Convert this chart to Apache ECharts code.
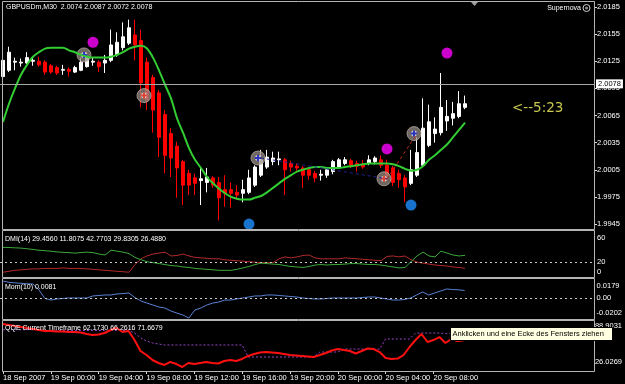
<!DOCTYPE html>
<html><head><meta charset="utf-8">
<script src="https://cdn.jsdelivr.net/npm/echarts@6/dist/echarts.min.js"></script>
<style>html,body{margin:0;padding:0;background:#000;}#c{width:625px;height:384px;}</style>
</head><body><div id="c"></div>
<script>
// ---------- DATA ----------
const slotCount = 99; // bar slots visible in window (78 bars drawn + empty space to the right)
const dateTickBars = [0, 8, 16, 24, 32, 40, 48, 56, 64, 72];
const dateLabels = ['18 Sep 2007','19 Sep 00:00','19 Sep 04:00','19 Sep 08:00','19 Sep 12:00','19 Sep 16:00','19 Sep 20:00','20 Sep 00:00','20 Sep 04:00','20 Sep 08:00'];
const priceTicks = [2.0185, 2.0155, 2.0125, 2.0095, 2.0065, 2.0035, 2.0005, 1.9975, 1.9945];
const dmiTicks = [0, 20, 60];
const momTicks = [-0.0202, 0, 0.0179];
const qqeTicks = [26.0269, 88.9031];

// [open, close, low, high]
const candles = [
[2.0108,2.0126,2.0107,2.0132],[2.0115,2.0135,2.0113,2.0141],[2.0124,2.0125,2.0115,2.0129],[2.0123,2.0124,2.0119,2.0128],
[2.0123,2.0129,2.0122,2.0135],[2.0125,2.0126,2.0120,2.0130],[2.0125,2.0121,2.0119,2.0130],[2.0124,2.0113,2.0110,2.0126],
[2.0120,2.0113,2.0111,2.0122],[2.0118,2.0112,2.0110,2.0120],[2.0115,2.0116,2.0110,2.0121],[2.0116,2.0114,2.0108,2.0118],
[2.0113,2.0118,2.0112,2.0120],[2.0115,2.0124,2.0114,2.0129],[2.0119,2.0130,2.0118,2.0135],[2.0124,2.0125,2.0120,2.0129],
[2.0124,2.0119,2.0113,2.0126],[2.0123,2.0126,2.0112,2.0132],[2.0126,2.0143,2.0124,2.0160],[2.0132,2.0146,2.0130,2.0157],
[2.0140,2.0152,2.0137,2.0168],[2.0145,2.0162,2.0143,2.0171],[2.0154,2.0143,2.0126,2.0171],[2.0148,2.0101,2.0074,2.0160],
[2.0124,2.0082,2.0071,2.0129],[2.0107,2.0071,2.0046,2.0110],[2.0090,2.0041,2.0019,2.0093],[2.0066,2.0021,2.0001,2.0071],
[2.0045,2.0018,1.9997,2.0051],[2.0031,2.0007,1.9974,2.0036],[2.0014,1.9988,1.9966,2.0016],[2.0001,1.9988,1.9977,2.0005],
[1.9996,1.9990,1.9977,2.0001],[1.9993,1.9995,1.9966,2.0008],[1.9991,1.9997,1.9980,2.0007],[1.9996,1.9988,1.9985,1.9998],
[1.9991,1.9974,1.9949,1.9997],[1.9983,1.9979,1.9964,1.9999],[1.9983,1.9979,1.9963,1.9991],[1.9980,1.9977,1.9972,1.9988],
[1.9979,1.9983,1.9969,1.9994],[1.9980,1.9996,1.9978,2.0005],[1.9988,2.0008,1.9986,2.0010],[1.9999,2.0016,1.9997,2.0027],
[2.0008,2.0019,2.0006,2.0027],[2.0014,2.0018,2.0010,2.0025],[2.0016,2.0017,2.0010,2.0025],[2.0016,2.0005,1.9977,2.0018],
[2.0012,2.0008,2.0003,2.0015],[2.0009,2.0007,2.0004,2.0012],[2.0007,1.9999,1.9985,2.0009],[2.0005,1.9999,1.9994,2.0007],
[2.0001,1.9996,1.9991,2.0004],[1.9999,2.0000,1.9993,2.0005],[1.9999,2.0005,1.9996,2.0008],[2.0003,2.0014,2.0000,2.0016],
[2.0008,2.0016,2.0006,2.0018],[2.0012,2.0016,2.0010,2.0019],[2.0015,2.0010,2.0007,2.0017],[2.0012,2.0009,2.0003,2.0015],
[2.0011,2.0008,2.0006,2.0016],[2.0012,2.0016,2.0010,2.0021],[2.0014,2.0018,2.0011,2.0020],[2.0016,2.0010,2.0007,2.0021],
[2.0010,1.9999,1.9994,2.0016],[2.0007,1.9991,1.9987,2.0009],[2.0001,1.9994,1.9985,2.0005],[1.9996,1.9986,1.9969,1.9999],
[1.9990,2.0005,1.9988,2.0027],[1.9999,2.0024,1.9997,2.0041],[2.0010,2.0051,2.0008,2.0084],[2.0032,2.0058,2.0030,2.0077],
[2.0045,2.0050,2.0035,2.0063],[2.0046,2.0074,2.0043,2.0112],[2.0059,2.0064,2.0048,2.0082],[2.0062,2.0067,2.0054,2.0080],
[2.0064,2.0078,2.0062,2.0092],[2.0074,2.0078,2.0072,2.0087]
];

const supernovaLine = [
2.0058,2.0078,2.0095,2.0110,2.0121,2.0130,2.0135,2.0139,2.0140,2.0140,
2.0140,2.0137,2.0135,2.0132,2.0130,2.0129,2.0129,2.0129,2.0130,2.0132,
2.0135,2.0139,2.0141,2.0142,2.0139,2.0129,2.0115,2.0099,2.0084,2.0062,
2.0046,2.0029,2.0016,2.0007,1.9997,1.9990,1.9984,1.9979,1.9975,1.9973,
1.9972,1.9972,1.9974,1.9976,1.9980,1.9985,1.9990,1.9995,1.9999,2.0003,
2.0005,2.0007,2.0008,2.0008,2.0007,2.0007,2.0007,2.0008,2.0009,2.0010,
2.0011,2.0012,2.0012,2.0012,2.0012,2.0011,2.0009,2.0006,2.0004,2.0005,
2.0009,2.0016,2.0021,2.0027,2.0033,2.0041,2.0049,2.0057
];

const magentaDots = [[15, 2.0146], [64, 2.0028], [74, 2.0134]];
const blueDots = [[41, 1.9945], [68, 1.9966]];
const signalBars = [14, 24, 43, 64, 69];
const signalPrices = [2.0132, 2.0087, 2.0018, 1.9995, 2.0045];
const signalSide = ['buy', 'sell', 'buy', 'sell', 'buy'];

const dmiPlus = [
40.4,40.2,39.8,39.4,38.5,37.6,36.5,35.9,35.2,34.2,
33.6,33.3,32.6,33.3,33.9,33.3,31.3,30.0,36.5,35.2,
33.9,31.9,26.7,23.5,20.9,19.6,18.3,17.0,15.6,15.0,
13.7,13.0,11.7,11.1,10.4,9.8,9.1,9.1,9.1,10.4,
12.4,14.3,17.0,18.9,18.3,17.6,17.0,15.6,14.3,13.7,
13.0,14.3,16.3,17.0,16.3,17.0,17.0,17.6,18.3,18.3,
17.6,17.0,17.0,16.3,15.0,13.7,12.4,13.0,20.9,28.7,
33.9,28.7,27.4,35.2,32.6,30.0,28.7,29.5
];
const dmiMinus = [
6.5,7.8,9.1,9.8,10.4,11.1,11.1,11.7,11.7,11.7,
12.4,11.7,11.7,11.7,11.1,10.4,9.8,9.1,8.5,7.8,
7.2,6.5,17.0,24.8,28.7,31.3,32.6,33.9,28.7,29.3,
31.3,28.7,26.7,26.1,25.4,24.8,24.8,23.5,22.8,22.2,
21.5,20.9,20.2,19.6,19.6,19.6,24.8,27.4,26.1,27.4,
29.3,30.0,26.1,24.8,24.8,24.8,24.8,26.1,25.4,24.8,
24.1,23.5,22.8,22.2,28.0,28.7,27.4,28.7,23.5,20.2,
18.9,17.6,16.3,15.6,15.0,13.7,13.0,11.8
];
const momentum = [
0.0179,0.0165,0.0160,0.0155,0.0150,0.0148,0.0086,-0.0001,-0.0017,-0.0006,
-0.0001,0.0004,0.0004,0.0004,0.0004,0.0025,0.0030,0.0035,0.0035,0.0045,
0.0050,0.0055,0.0009,-0.0027,-0.0048,-0.0068,-0.0089,-0.0099,-0.0130,-0.0151,
-0.0171,-0.0202,-0.0120,-0.0099,-0.0068,-0.0048,-0.0037,-0.0017,-0.0017,-0.0006,
0.0004,0.0014,0.0025,0.0025,0.0035,0.0035,0.0030,0.0025,0.0019,0.0014,
0.0004,-0.0001,-0.0006,-0.0006,-0.0001,0.0004,0.0004,0.0004,0.0004,0.0004,
0.0009,0.0014,0.0014,0.0004,-0.0006,-0.0017,-0.0017,-0.0011,0.0004,0.0035,
0.0066,0.0035,0.0055,0.0076,0.0097,0.0091,0.0088,0.0081
];
const qqeRsi = [
84.8,83.4,82.1,80.7,79.3,78.0,76.6,75.2,75.2,74.6,
74.6,73.9,73.9,73.2,71.1,69.8,70.5,72.5,76.6,79.3,
73.9,75.2,62.9,47.9,42.4,35.6,31.5,28.8,32.9,30.1,
26.03,31.5,30.1,31.5,32.9,31.5,30.8,34.2,35.6,34.2,
37.0,41.1,43.8,45.9,46.5,45.9,45.2,43.8,42.4,41.8,
41.1,40.4,39.7,42.4,45.2,48.6,50.6,49.3,47.9,44.5,
47.9,51.3,50.6,46.5,38.3,37.0,37.6,42.4,53.4,62.9,
71.1,60.2,62.9,67.0,58.8,64.3,61.6,62.17
];
const qqeTrail = [
77.0,77.0,77.0,77.0,77.0,77.0,77.0,76.0,76.0,76.0,
76.0,76.0,76.0,76.0,76.0,76.0,76.0,76.0,76.0,76.0,
76.0,76.0,72.5,66.0,61.6,58.8,57.5,56.1,56.1,56.1,
56.1,56.1,56.1,56.1,56.1,56.1,56.1,56.1,56.1,56.1,
56.1,39.7,39.7,39.7,39.7,39.7,39.7,39.7,39.7,39.7,
39.7,39.7,39.7,46.5,46.5,46.5,46.5,50.6,50.6,50.6,
50.6,50.6,50.6,50.6,64.3,64.3,64.3,64.3,64.3,72.5,
72.5,72.5,72.5,72.5,71.67,71.67,71.67,71.67
];

// ---------- CHART ----------
const FONT = '"Liberation Sans", Arial, sans-serif';
const categories = Array.from({length: slotCount}, (_, i) => String(i));
const labelAt = {};
dateTickBars.forEach((b, k) => { labelAt[b] = dateLabels[k]; });
const lastClose = candles[candles.length - 1][1];
const lastBar = candles[candles.length - 1];

const gridBase = {left: 0, width: 594};
const hiddenX = (g) => ({gridIndex: g, type: 'category', data: categories, boundaryGap: true, show: false});
const dotted = {color: '#c8c8c8', type: [2, 3], width: 1};
const lbl = {color: '#ffffff', fontSize: 7.5, fontFamily: FONT};

function edgeFmt(minV, maxV, fmt) {
  return function (v) {
    const s = fmt(v);
    if (v === maxV) return '{t|' + s + '}';
    if (v === minV) return '{b|' + s + '}';
    return s;
  };
}
const edgeRich = {
  t: {padding: [10, 0, 0, 0], color: '#fff', fontSize: 7.5, fontFamily: FONT},
  b: {padding: [0, 0, 10, 0], color: '#fff', fontSize: 7.5, fontFamily: FONT}
};

const chart = echarts.init(document.getElementById('c'), null, {renderer: 'canvas'});
chart.setOption({
  backgroundColor: '#000000',
  animation: false,
  grid: [
    Object.assign({top: 2, height: 227}, gridBase),
    Object.assign({top: 233, height: 44}, gridBase),
    Object.assign({top: 281, height: 37}, gridBase),
    Object.assign({top: 321, height: 46}, gridBase)
  ],
  xAxis: [
    hiddenX(0), hiddenX(1), hiddenX(2),
    {
      gridIndex: 3, type: 'category', data: categories, boundaryGap: true, offset: 4,
      axisLine: {show: false},
      axisTick: {show: true, alignWithLabel: true, length: 3, interval: (i) => labelAt[i] !== undefined, lineStyle: {color: '#dddddd'}},
      axisLabel: Object.assign({interval: (i) => labelAt[i] !== undefined, formatter: (v, i) => labelAt[i] || '', align: 'left', margin: 3}, lbl)
    }
  ],
  yAxis: [
    {
      gridIndex: 0, type: 'value', position: 'right', min: 1.99395, max: 2.01905,
      splitLine: {show: false}, axisLine: {show: false},
      axisTick: {show: true, length: 3, customValues: priceTicks, lineStyle: {color: '#dddddd'}},
      axisLabel: Object.assign({customValues: priceTicks, formatter: (v) => v.toFixed(4), margin: 3}, lbl)
    },
    {
      gridIndex: 1, type: 'value', position: 'right', min: 0, max: 60,
      splitLine: {show: false}, axisLine: {show: false}, axisTick: {show: false},
      axisLabel: Object.assign({customValues: dmiTicks, margin: 3, formatter: edgeFmt(0, 60, (v) => String(v)), rich: edgeRich}, lbl)
    },
    {
      gridIndex: 2, type: 'value', position: 'right', min: -0.0202, max: 0.0179,
      splitLine: {show: false}, axisLine: {show: false}, axisTick: {show: false},
      axisLabel: Object.assign({customValues: momTicks, margin: 3, formatter: edgeFmt(-0.0202, 0.0179, (v) => v === 0 ? '0.00' : v.toFixed(4)), rich: edgeRich}, lbl)
    },
    {
      gridIndex: 3, type: 'value', position: 'right', min: 26.0269, max: 88.9031,
      splitLine: {show: false}, axisLine: {show: false}, axisTick: {show: false},
      axisLabel: Object.assign({customValues: qqeTicks, margin: 3, formatter: edgeFmt(26.0269, 88.9031, (v) => v.toFixed(4)), rich: edgeRich}, lbl)
    }
  ],
  series: [
    {
      type: 'candlestick', xAxisIndex: 0, yAxisIndex: 0, data: candles, barWidth: 4,
      itemStyle: {color: '#ffffff', color0: '#ff0000', borderColor: '#ffffff', borderColor0: '#ff0000', borderWidth: 1},
      markLine: {
        symbol: 'none', silent: true, animation: false,
        lineStyle: {color: '#a8a8a8', width: 1, type: 'solid'},
        label: {position: 'end', distance: 2, formatter: () => lastClose.toFixed(4), backgroundColor: '#ffffff', color: '#000000', fontSize: 7.5, fontFamily: FONT, padding: [1, 2, 0, 2]},
        data: [{yAxis: lastClose}]
      }
    },
    {
      type: 'line', xAxisIndex: 0, yAxisIndex: 0, data: supernovaLine, symbol: 'none', smooth: 0.3,
      lineStyle: {color: '#32cd32', width: 2}
    },
    {
      type: 'line', xAxisIndex: 0, yAxisIndex: 0, symbol: 'none',
      data: [[signalBars[2], signalPrices[2]], [signalBars[3], signalPrices[3]]],
      lineStyle: {color: '#22229a', width: 1, type: [3, 3]}
    },
    {
      type: 'line', xAxisIndex: 0, yAxisIndex: 0, symbol: 'none',
      data: [[signalBars[3], signalPrices[3]], [signalBars[4], signalPrices[4]]],
      lineStyle: {color: '#c02818', width: 1, type: [3, 3]}
    },
    {
      type: 'scatter', xAxisIndex: 0, yAxisIndex: 0, symbol: 'circle', symbolSize: 14, symbolOffset: [-3, 0],
      data: signalBars.map((b, k) => [b, signalPrices[k]]),
      itemStyle: {color: 'rgba(150,140,132,0.92)', borderColor: 'rgba(190,180,170,0.9)', borderWidth: 1}
    },
    {
      type: 'scatter', xAxisIndex: 0, yAxisIndex: 0, symbol: 'circle', symbolSize: 6, symbolOffset: [-3, 0],
      data: signalBars.map((b, k) => [b, signalPrices[k]]),
      itemStyle: {color: '#e8e4e0'}
    },
    {
      type: 'scatter', xAxisIndex: 0, yAxisIndex: 0, symbol: 'path://M2,0H4V2H6V4H4V6H2V4H0V2H2Z', symbolSize: 6, symbolOffset: [-3, 0],
      data: signalBars.map((b, k) => ({value: [b, signalPrices[k]], itemStyle: {color: signalSide[k] === 'buy' ? '#0010c0' : '#e02010'}}))
    },
    {
      type: 'scatter', xAxisIndex: 0, yAxisIndex: 0, symbol: 'circle', symbolSize: 11,
      data: magentaDots, itemStyle: {color: '#ff00ff'}
    },
    {
      type: 'scatter', xAxisIndex: 0, yAxisIndex: 0, symbol: 'circle', symbolSize: 11,
      data: blueDots, itemStyle: {color: '#1e90ff'}
    },
    {
      type: 'line', xAxisIndex: 1, yAxisIndex: 1, data: dmiMinus, symbol: 'none',
      lineStyle: {color: '#b02a2a', width: 1},
      markLine: {symbol: 'none', silent: true, label: {show: false}, lineStyle: dotted, data: [{yAxis: 20}]}
    },
    {
      type: 'line', xAxisIndex: 1, yAxisIndex: 1, data: dmiPlus, symbol: 'none',
      lineStyle: {color: '#3ca83c', width: 1}
    },
    {
      type: 'line', xAxisIndex: 2, yAxisIndex: 2, data: momentum, symbol: 'none',
      lineStyle: {color: '#5a82d4', width: 1},
      markLine: {symbol: 'none', silent: true, label: {show: false}, lineStyle: dotted, data: [{yAxis: 0}]}
    },
    {
      type: 'line', xAxisIndex: 3, yAxisIndex: 3, data: qqeTrail, symbol: 'none',
      lineStyle: {color: '#9a44c8', width: 1, type: [2, 2]}
    },
    {
      type: 'line', xAxisIndex: 3, yAxisIndex: 3, data: qqeRsi, symbol: 'none',
      lineStyle: {color: '#ff1010', width: 2}
    }
  ],
  graphic: [
    {type: 'rect', shape: {x: 2.5, y: 1.5, width: 592, height: 228}, style: {fill: null, stroke: '#b4b4b4', lineWidth: 1}, silent: true, z: 10},
    {type: 'rect', shape: {x: 2.5, y: 230.5, width: 592, height: 47}, style: {fill: null, stroke: '#b4b4b4', lineWidth: 1}, silent: true, z: 10},
    {type: 'rect', shape: {x: 2.5, y: 278.5, width: 592, height: 41}, style: {fill: null, stroke: '#b4b4b4', lineWidth: 1}, silent: true, z: 10},
    {type: 'rect', shape: {x: 2.5, y: 320.5, width: 592, height: 51}, style: {fill: null, stroke: '#b4b4b4', lineWidth: 1}, silent: true, z: 10},
    {type: 'polygon', shape: {points: [[471, 2], [478, 2], [474.5, 6]]}, style: {fill: '#a0a0a0'}, silent: true, z: 11},
    {type: 'text', x: 6, y: 7, style: {text: 'GBPUSDm,M30  ' + lastBar[0].toFixed(4) + ' ' + lastBar[3].toFixed(4) + ' ' + lastBar[2].toFixed(4) + ' ' + lastBar[1].toFixed(4), fill: '#ffffff', font: '7px ' + FONT, verticalAlign: 'middle'}, z: 12},
    {type: 'text', x: 581, y: 8, style: {text: 'Supernova', fill: '#ffffff', font: '7px ' + FONT, align: 'right', verticalAlign: 'middle'}, z: 12},
    {type: 'circle', shape: {cx: 586.5, cy: 8, r: 3.5}, style: {fill: null, stroke: '#d0d0d0', lineWidth: 1}, z: 12},
    {type: 'circle', shape: {cx: 586.5, cy: 8, r: 1.5}, style: {fill: '#909090'}, z: 12},
    {type: 'text', x: 512, y: 108, style: {text: '<--5:23', fill: '#c8c850', font: '13.5px "DejaVu Sans", sans-serif', verticalAlign: 'middle'}, z: 12},
    {type: 'text', x: 5, y: 239, style: {text: 'DMI(14) 29.4560 11.8075 42.7703 29.8305 26.4880', fill: '#ffffff', font: '7px ' + FONT, verticalAlign: 'middle'}, z: 12},
    {type: 'text', x: 5, y: 287, style: {text: 'Mom(10) ' + momentum[momentum.length - 1].toFixed(4), fill: '#ffffff', font: '7px ' + FONT, verticalAlign: 'middle'}, z: 12},
    {type: 'text', x: 5, y: 328, style: {text: 'QQE Current Timeframe 62.1730 66.2616 71.6679', fill: '#ffffff', font: '7px ' + FONT, verticalAlign: 'middle'}, z: 12},
    {type: 'rect', shape: {x: 450.5, y: 327.5, width: 162, height: 13}, style: {fill: '#ffffe1', stroke: '#000000', lineWidth: 1}, z: 20},
    {type: 'text', x: 452.5, y: 334, style: {text: 'Anklicken und eine Ecke des Fensters ziehen', fill: '#000000', font: '7.5px ' + FONT, verticalAlign: 'middle'}, z: 21}
  ]
});
</script>
</body></html>
